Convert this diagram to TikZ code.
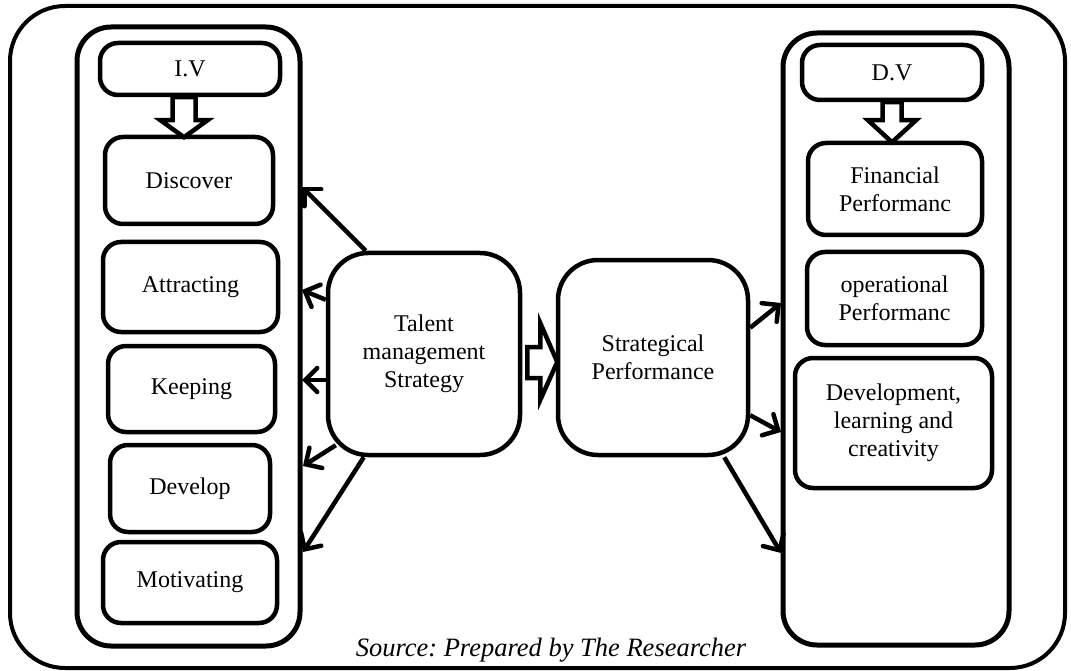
\documentclass[tikz,border=0pt]{standalone}
\usepackage{fontspec}
\setmainfont{Liberation Serif}
\usetikzlibrary{arrows.meta,calc}
\begin{document}
\frenchspacing
\begin{tikzpicture}[x=1pt,y=-1pt,
  font=\fontsize{24}{28}\selectfont,
  frame/.style={draw, line width=4pt, rounded corners=55pt},
  column/.style={draw, line width=5pt, rounded corners=34pt},
  item/.style={draw, line width=4.5pt, rounded corners=18pt, align=center, inner sep=0pt},
  core/.style={draw, line width=4.5pt, rounded corners=40pt, align=center, inner sep=0pt},
  hollow/.style={draw, line width=4.5pt, fill=white, line join=miter},
  conn/.style={draw, line width=4.5pt, -{Straight Barb[length=12pt,width=24pt,line cap=round]}}
]
\useasboundingbox (0,0) rectangle (1071,671);

% outer frame
\draw[frame] (10,6) rectangle (1065,668);

% the two variable columns
\draw[column] (77,27) rectangle (300,646);
\draw[column] (783,33) rectangle (1009,645);

% independent variables
\node[item, minimum width=180pt, minimum height=52pt] (iv) at (190,69) {I.V};
\node[item, minimum width=168pt, minimum height=87pt] (disc) at (189,180.5) {Discover};
\node[item, minimum width=175pt, minimum height=90pt] (attr) at (190.5,287) {Attracting};
\node[item, minimum width=167pt, minimum height=86pt] (keep) at (191.5,389) {Keeping};
\node[item, minimum width=160pt, minimum height=87pt] (dev) at (190,488.5) {Develop};
\node[item, minimum width=174pt, minimum height=81pt] (motiv) at (190,582.5) {Motivating};

% dependent variables
\node[item, minimum width=180pt, minimum height=55pt] (dv) at (892,72.5) {D.V};
\node[item, minimum width=174pt, minimum height=92pt] (fin) at (895,189) {Financial\\Performanc};
\node[item, minimum width=175pt, minimum height=93pt] (oper) at (894.5,298.5) {operational\\Performanc};
\node[item, minimum width=197pt, minimum height=130pt] (learn) at (893.5,423) {Development,\\learning and\\creativity};

% central blocks
\node[core, minimum width=192pt, minimum height=202pt] (tms) at (424,354) {Talent\\management\\Strategy};
\node[core, minimum width=190pt, minimum height=195pt] (sp) at (653,357.5) {Strategical\\Performance};

% hollow block arrows
\draw[hollow] ([xshift=-17.5pt]iv.south) -- ++(0,23) -- ++(-12,0) -- ++(23.5,17)
  -- ++(23.5,-17) -- ++(-12,0) -- ++(0,-23) -- cycle;
\draw[hollow] ([xshift=-9.5pt]dv.south) -- ++(0,18) -- ++(-14.5,0) -- ++(24,22)
  -- ++(24,-22) -- ++(-14.5,0) -- ++(0,-18) -- cycle;
\draw[hollow] ([xshift=5pt,yshift=7pt]tms.east) -- ++(13,0) -- ++(0,-24) -- ++(17,39)
  -- ++(-17,38) -- ++(0,-22) -- ++(-13,0) -- cycle;

% connector ends on the column borders
\coordinate (l1) at (302,187);
\coordinate (l2) at (302,290);
\coordinate (l3) at (302,380);
\coordinate (l4) at (303,466);
\coordinate (l5) at (303,552);
\coordinate (r1) at (781,303);
\coordinate (r2) at (781,432);
\coordinate (r3) at (781,553);

% strategy to its dimensions
\draw[conn] ([xshift=40pt]tms.north west) -- (l1);
\draw[conn] ([yshift=-49pt]tms.north west) -- (l2);
\draw[conn] ([yshift=-26pt]tms.west) -- (l3);
\draw[conn] ([xshift=10pt,yshift=12pt]tms.south west) -- (l4);
\draw[conn] ([xshift=38pt]tms.south west) -- (l5);

% performance to its dimensions
\draw[conn] ([yshift=-70pt]sp.north east) -- (r1);
\draw[conn] ([yshift=42pt]sp.south east) -- (r2);
\draw[conn] ([xshift=-26pt]sp.south east) -- (r3);

% source line
\node[font=\fontsize{26.5}{30}\selectfont\itshape] (src) at (551,650) {Source: Prepared by The Researcher};
\end{tikzpicture}
\end{document}
